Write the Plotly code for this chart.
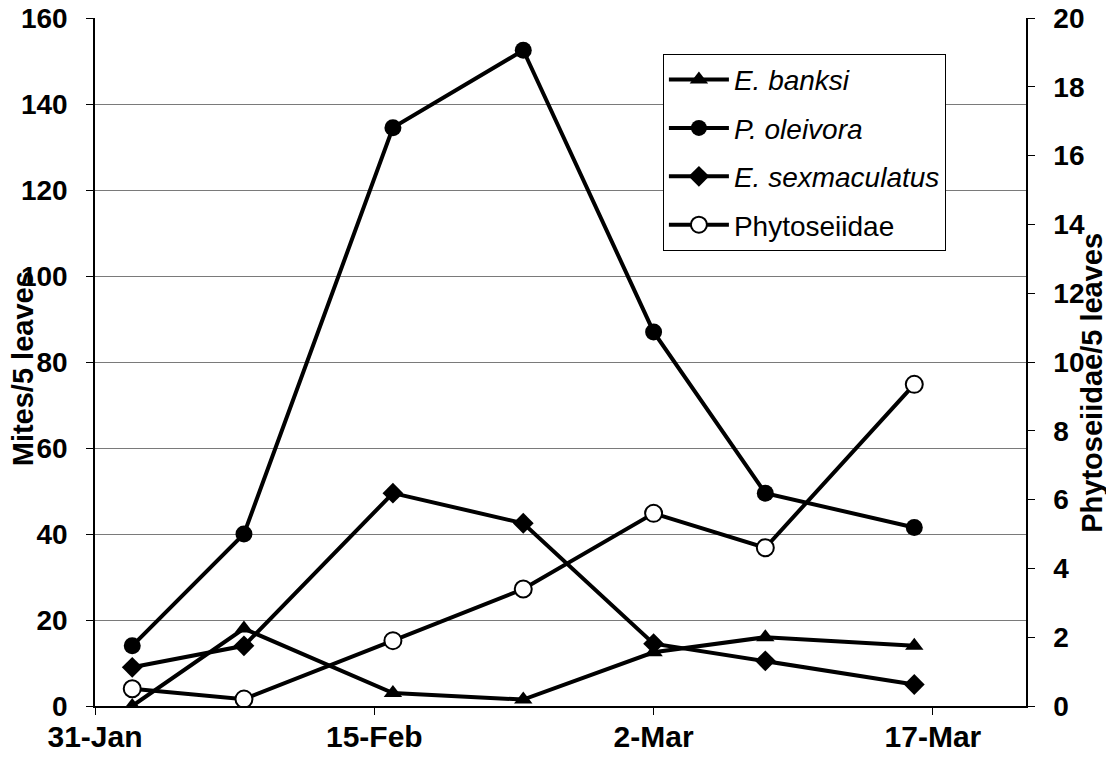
import plotly.graph_objects as go

dates = ["2001-02-02", "2001-02-08", "2001-02-16", "2001-02-23",
         "2001-03-02", "2001-03-08", "2001-03-16"]
e_banksi = [0, 18, 3, 1.5, 12.5, 16, 14]
p_oleivora = [14, 40, 134.5, 152.5, 87, 49.5, 41.5]
e_sexmaculatus = [9, 14, 49.5, 42.5, 14.5, 10.5, 5]
phytoseiidae = [0.5, 0.2, 1.9, 3.4, 5.6, 4.6, 9.35]

FONT = "Liberation Sans, Arial, sans-serif"
LW = 4

fig = go.Figure()
fig.add_trace(go.Scatter(x=dates, y=e_banksi, name="<i>E. banksi</i>", mode="lines+markers",
                         legendgroup="a",
                         line=dict(color="black", width=LW),
                         marker=dict(symbol="triangle-up", size=16, color="black")))
fig.add_trace(go.Scatter(x=dates, y=p_oleivora, name="<i>P. oleivora</i>", mode="lines+markers",
                         legendgroup="b",
                         line=dict(color="black", width=LW),
                         marker=dict(symbol="circle", size=17, color="black")))
fig.add_trace(go.Scatter(x=dates, y=e_sexmaculatus, name="<i>E. sexmaculatus</i>", mode="lines+markers",
                         legendgroup="c",
                         line=dict(color="black", width=LW),
                         marker=dict(symbol="diamond", size=16, color="black")))
fig.add_trace(go.Scatter(x=dates, y=phytoseiidae, name="Phytoseiidae", mode="lines+markers",
                         legendgroup="d", yaxis="y2",
                         line=dict(color="black", width=LW),
                         marker=dict(symbol="circle", size=17, color="white",
                                     line=dict(color="black", width=2))))

xtickfont = dict(family=FONT, size=30, color="black", weight="bold")
ytickfont = dict(family=FONT, size=28, color="black", weight="bold")

fig.update_layout(
    width=1106, height=754,
    margin=dict(l=87, r=88, t=10, b=56),
    paper_bgcolor="white", plot_bgcolor="white",
    font=dict(family=FONT, color="black"),
    showlegend=True,
    legend=dict(x=0.61, y=0.948, xanchor="left", yanchor="top",
                bgcolor="white", bordercolor="black", borderwidth=1,
                font=dict(family=FONT, size=28, color="black"),
                tracegroupgap=9, itemwidth=60),
    xaxis=dict(type="date", range=["2001-01-31", "2001-03-22"],
               tick0="2001-01-31", dtick=15 * 86400000, tickformat="%-d-%b",
               showgrid=False, showline=True, linecolor="black", linewidth=1.5,
               ticks="outside", ticklen=7, tickcolor="black",
               tickfont=xtickfont, zeroline=False, automargin=False,
               ticklabelstandoff=-4, ticklabeloverflow="allow"),
    yaxis=dict(range=[0, 160], dtick=20, showgrid=True, gridcolor="#7a7a7a", gridwidth=1,
               showline=True, linecolor="black", linewidth=1.5,
               ticks="outside", ticklen=7, tickcolor="black",
               tickfont=ytickfont, zeroline=False, ticklabelstandoff=13, automargin=False,
               ticklabeloverflow="allow"),
    yaxis2=dict(range=[0, 20], dtick=2, overlaying="y", side="right",
                showgrid=False, showline=True, linecolor="black", linewidth=1.5,
                ticks="outside", ticklen=7, tickcolor="black",
                tickfont=ytickfont, zeroline=False, ticklabelstandoff=13, automargin=False,
                ticklabeloverflow="allow"),
    annotations=[
        dict(text="<b>Mites/5 leaves</b>", xref="paper", yref="paper",
             x=-0.078, y=0.49, textangle=-90, showarrow=False,
             xanchor="center", yanchor="middle",
             font=dict(family=FONT, size=29, color="black")),
        dict(text="<b>Phytoseiidae/5 leaves</b>", xref="paper", yref="paper",
             x=1.071, y=0.47, textangle=-90, showarrow=False,
             xanchor="center", yanchor="middle",
             font=dict(family=FONT, size=29, color="black")),
    ],
)

fig.write_html("out.html")
